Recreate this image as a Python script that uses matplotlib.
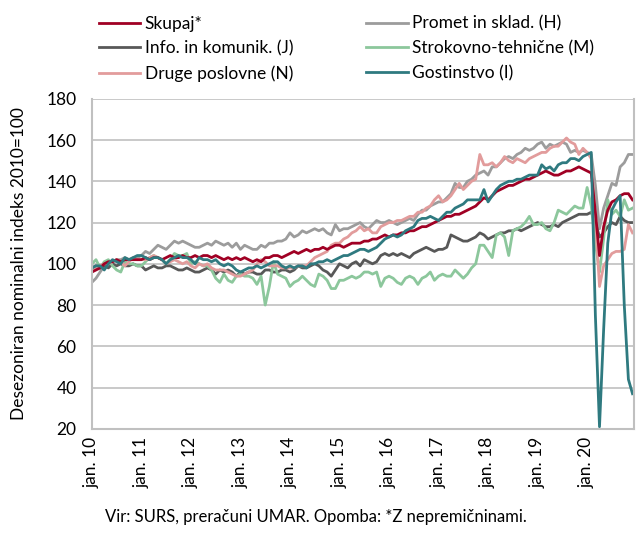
import matplotlib
matplotlib.use("Agg")
import matplotlib.pyplot as plt
import numpy as np

# monthly series, jan 2010 - dec 2020
skupaj = [
    96, 97, 98, 100, 101, 101, 102, 101, 102, 102, 102, 102,
    102, 103, 102, 103, 103, 102, 103, 104, 103, 103, 104, 103,
    103, 104, 103, 104, 104, 103, 104, 103, 102, 103, 102, 103,
    102, 103, 102, 101, 102, 101, 103, 103, 104, 104, 103, 104,
    105, 106, 105, 106, 107, 106, 107, 107, 108, 107, 108, 109,
    109, 108, 109, 110, 110, 110, 111, 111, 112, 112, 113, 114,
    113, 114, 114, 115, 115, 116, 116, 117, 118, 118, 119, 120,
    121, 122, 123, 123, 124, 124, 125, 126, 127, 128, 130, 132,
    131, 133, 135, 136, 137, 138, 138, 139, 140, 141, 141, 142,
    143, 144, 145, 144, 143, 143, 144, 145, 145, 146, 147, 146,
    145, 144, 125, 104, 118, 126, 130, 131, 133, 134, 134, 131,
]
promet = [
    91, 93, 96, 99, 100, 101, 102, 102, 103, 102, 103, 103,
    104, 106, 105, 107, 109, 108, 107, 109, 111, 110, 111, 110,
    109, 108, 108, 109, 110, 109, 111, 110, 109, 110, 108, 110,
    107, 109, 108, 107, 107, 109, 108, 110, 110, 111, 111, 112,
    115, 113, 114, 116, 115, 116, 117, 116, 117, 115, 114, 119,
    116, 117, 117, 118, 119, 120, 118, 117, 119, 121, 120, 120,
    121, 120, 119, 120, 121, 122, 121, 124, 126, 126, 128, 129,
    130, 130, 132, 134, 139, 137, 137, 140, 141, 143, 144, 145,
    143, 147, 147, 149, 151, 152, 151, 153, 154, 156, 155, 156,
    158, 159, 156, 158, 157, 158, 159, 158, 154, 155, 154, 155,
    154, 153, 138, 117, 127, 133, 139, 138, 147, 149, 153, 153,
]
info = [
    98, 99, 98, 99, 98, 100, 99, 100, 99, 99, 100, 99,
    99, 97, 98, 99, 98, 98, 99, 99, 98, 97, 97, 98,
    97, 96, 96, 97, 98, 97, 95, 97, 96, 97, 96, 94,
    96, 95, 96, 96, 95, 95, 97, 97, 96, 96, 97, 97,
    96, 97, 99, 98, 98, 99, 100, 99, 97, 96, 94, 97,
    100, 99, 98, 100, 101, 99, 102, 101, 100, 101, 104, 105,
    104, 105, 104, 105, 104, 103, 105, 106, 107, 108, 107, 106,
    107, 107, 108, 114, 113, 112, 111, 111, 112, 113, 115, 114,
    112, 113, 114, 115, 115, 116, 116, 117, 116, 117, 118, 119,
    120, 119, 118, 118, 119, 118, 120, 121, 122, 123, 124, 124,
    124, 125, 120, 113, 115, 118, 120, 119, 123, 121, 120, 120,
]
strokovno = [
    100, 102, 98, 101, 102, 99, 97, 96, 101, 100, 100, 99,
    99, 101, 103, 104, 103, 102, 100, 102, 105, 104, 104, 105,
    100, 101, 100, 99, 99, 97, 93, 91, 95, 92, 91, 94,
    95, 94, 94, 93, 90, 94, 80, 89, 101, 95, 94, 93,
    89, 91, 92, 94, 92, 90, 89, 95, 94, 92, 88, 88,
    92, 92, 93, 94, 93, 94, 96, 96, 95, 96, 89, 93,
    94, 93, 91, 90, 93, 94, 93, 90, 93, 94, 96, 92,
    94, 95, 94, 94, 97, 95, 93, 95, 98, 100, 109, 109,
    106, 103, 114, 115, 113, 104, 116, 117, 118, 120, 123, 119,
    119, 120, 117, 116, 120, 126, 125, 124, 126, 128, 127, 127,
    137, 128, 110, 96, 112, 131, 124, 126, 123, 131, 126, 127,
]
druge = [
    96, 98, 99, 100, 100, 101, 102, 101, 99, 101, 103, 102,
    102, 102, 103, 104, 103, 102, 100, 101, 102, 101, 100, 101,
    99, 98, 100, 99, 100, 98, 97, 97, 97, 96, 95, 94,
    94, 95, 96, 97, 100, 102, 101, 99, 99, 99, 98, 98,
    98, 98, 99, 99, 99, 101, 103, 104, 105, 106, 109, 110,
    110, 112, 113, 115, 116, 118, 116, 117, 115, 115, 118, 119,
    120, 120, 121, 121, 122, 123, 123, 125, 125, 127, 128, 131,
    133, 130, 131, 133, 136, 139, 136, 138, 140, 141, 153, 148,
    148, 149, 147, 149, 152, 150, 149, 151, 150, 149, 151, 152,
    153, 154, 154, 156, 157, 157, 159, 161, 159, 158, 153, 156,
    154, 151, 122, 89, 99, 102, 105, 106, 106, 107, 119, 115,
]
gostinstvo = [
    98, 99, 99, 97, 100, 102, 101, 100, 103, 102, 103, 104,
    104, 103, 102, 103, 103, 102, 100, 102, 103, 104, 103, 103,
    102, 100, 103, 102, 102, 101, 102, 100, 99, 100, 99, 97,
    96, 97, 98, 98, 99, 98, 99, 100, 101, 101, 99, 98,
    99, 98, 99, 99, 98, 100, 100, 101, 101, 102, 101, 102,
    103, 104, 104, 105, 106, 107, 107, 106, 107, 108, 110, 112,
    113, 114, 113, 114, 116, 117, 118, 121, 122, 122, 123, 122,
    121, 123, 125, 125, 127, 128, 129, 131, 131, 131, 131, 136,
    130, 133, 136, 138, 139, 140, 140, 141, 141, 142, 143, 143,
    143, 148, 146, 147, 145, 148, 149, 149, 151, 151, 150, 152,
    153, 154, 75, 21, 68, 110, 126, 130, 133, 80, 44, 37,
]

tick_labels = ["jan. 10", "jan. 11", "jan. 12", "jan. 13", "jan. 14", "jan. 15",
               "jan. 16", "jan. 17", "jan. 18", "jan. 19", "jan. 20"]

plt.rcParams['font.family'] = ['Lato', 'DejaVu Sans']

fig = plt.figure(figsize=(6.38, 5.34), dpi=100)
ax = fig.add_axes([0.144, 0.197, 0.85, 0.618])

months = np.arange(len(skupaj))
lw = 2.0
l_promet, = ax.plot(months, promet, color='#9c9c9c', lw=lw, label='Promet in sklad. (H)')
l_info, = ax.plot(months, info, color='#585858', lw=lw, label='Info. in komunik. (J)')
l_strok, = ax.plot(months, strokovno, color='#8cc79c', lw=lw, label='Strokovno-tehnične (M)')
l_druge, = ax.plot(months, druge, color='#e29c9c', lw=lw, label='Druge poslovne (N)')
l_skupaj, = ax.plot(months, skupaj, color='#a00024', lw=lw, label='Skupaj*')
l_gost, = ax.plot(months, gostinstvo, color='#2f7a80', lw=lw, label='Gostinstvo (I)')

ax.set_ylim(20, 180)
ax.set_xlim(0, 131.4)
ax.set_yticks(range(20, 181, 20))
ax.set_xticks(range(0, 121, 12))
ax.set_xticklabels(tick_labels, rotation=90)
ax.tick_params(axis='both', length=0, labelsize=12.5, colors='black')
ax.tick_params(axis='y', pad=11)
ax.tick_params(axis='x', pad=6)
ax.grid(axis='y', color='#c0c0c0', lw=1.2)
ax.set_axisbelow(True)
for side in ['left', 'bottom', 'right']:
    ax.spines[side].set_color('#c0c0c0')
    ax.spines[side].set_linewidth(1.5)
ax.spines['top'].set_visible(False)

ax.set_ylabel('Desezoniran nominalni indeks 2010=100', fontsize=12.5, labelpad=14)

fig.legend(handles=[l_skupaj, l_info, l_druge, l_promet, l_strok, l_gost],
           ncol=2, loc='upper left', bbox_to_anchor=(0.133, 0.997),
           frameon=False, fontsize=12.5, handlelength=2.4, handletextpad=0.25,
           columnspacing=4.2, labelspacing=0.5, borderaxespad=0.4)

fig.text(0.495, 0.022, 'Vir: SURS, preračuni UMAR. Opomba: *Z nepremičninami.',
         ha='center', fontsize=12)

fig.savefig('out.png', dpi=100)
